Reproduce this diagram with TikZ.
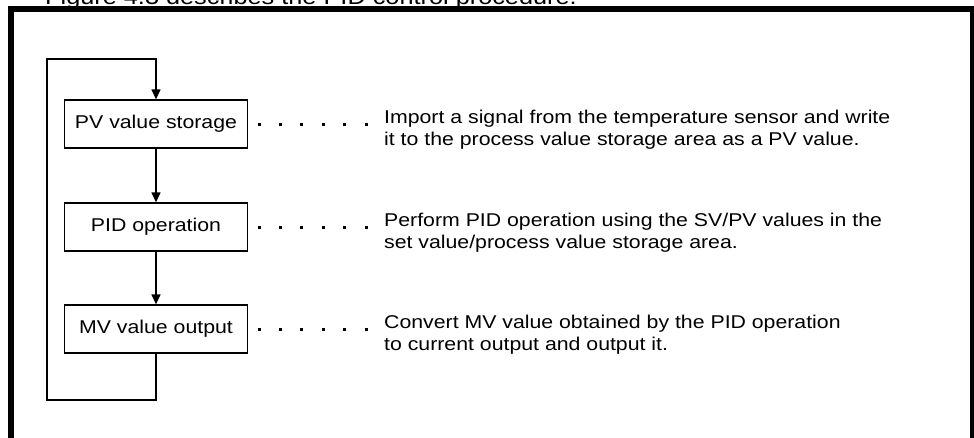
\documentclass[tikz,border=0pt]{standalone}
\usepackage{fontspec}
\setmainfont[FakeStretch=1.15]{Liberation Sans}
\usetikzlibrary{arrows.meta}
\begin{document}
\begin{tikzpicture}[x=1pt,y=-1pt,
  txt/.style={font=\fontsize{18.5}{22.5}\selectfont},
  stepbox/.style={txt, draw, line width=1.3pt, minimum width=183pt, minimum height=48pt, inner sep=0pt},
  desc/.style={txt, anchor=west, align=left, inner sep=0pt},
  flow/.style={line width=1.3pt, -{Triangle[length=10pt,width=9pt]}},
  leader/.style={line width=3pt, dash pattern=on 3pt off 18.4pt, shorten <=9.5pt, shorten >=10pt}]
\useasboundingbox (0,0) rectangle (974,437);
\clip (0,0) rectangle (974,437);
\node[font=\fontsize{22}{26}\selectfont, anchor=base west, inner sep=0pt] (title) at (45,4.5) {Figure 4.3 describes the PID control procedure.};
\draw[line width=6pt] (11,445) -- (11,9) -- (973,9) -- (973,445);
\node[stepbox] (pv) at (156,124) {PV value storage};
\node[stepbox] (pid) at (156,227) {PID operation};
\node[stepbox] (mv) at (156,329) {MV value output};
\node[desc] (d1) at (384,129.5) {Import a signal from the temperature sensor and write\\it to the process value storage area as a PV value.};
\node[desc] (d2) at (384,232.5) {Perform PID operation using the SV/PV values in the\\set value/process value storage area.};
\node[desc] (d3) at (384,334.5) {Convert MV value obtained by the PID operation\\to current output and output it.};
\draw[leader] (pv.east) -- (pv.east -| d1.west);
\draw[leader] (pid.east) -- (pid.east -| d2.west);
\draw[leader] (mv.east) -- (mv.east -| d3.west);
\draw[flow] (pv) -- (pid);
\draw[flow] (pid) -- (mv);
\coordinate (lbl) at (47,400);
\coordinate (ltl) at (47,59);
\draw[flow] (mv.south) -- (mv.south |- lbl) -- (lbl) -- (ltl) -- (ltl -| pv.north) -- (pv.north);
\end{tikzpicture}
\end{document}
